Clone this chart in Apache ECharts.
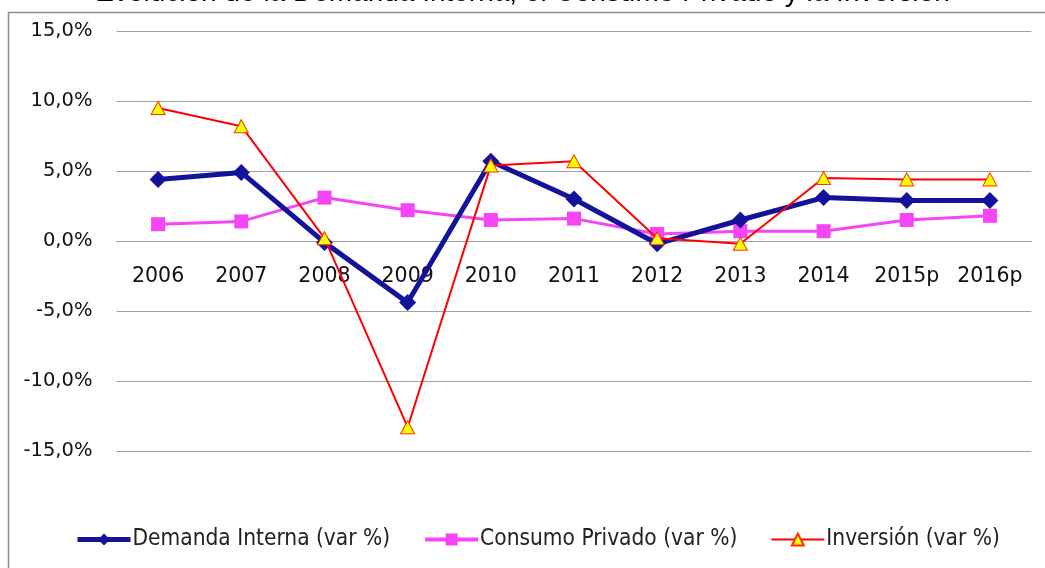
<!DOCTYPE html>
<html>
<head>
<meta charset="utf-8">
<script src="https://cdn.jsdelivr.net/npm/echarts@6/dist/echarts.min.js"></script>
<style>
html,body{margin:0;padding:0;background:#fff;}
#chart{width:1045px;height:568px;}
</style>
</head>
<body>
<div id="chart"></div>
<script>
const titleText = 'Evolución de la Demanda Interna, el Consumo Privado y la Inversión';
const categories = ['2006','2007','2008','2009','2010','2011','2012','2013','2014','2015p','2016p'];
const demandaInterna = [4.4, 4.9, -0.1, -4.4, 5.7, 3.0, -0.2, 1.5, 3.1, 2.9, 2.9];
const consumoPrivado = [1.2, 1.4, 3.1, 2.2, 1.5, 1.6, 0.5, 0.7, 0.7, 1.5, 1.8];
const inversion = [9.5, 8.2, 0.2, -13.3, 5.4, 5.7, 0.2, -0.2, 4.5, 4.4, 4.4];
const seriesNames = ['Demanda Interna (var %)', 'Consumo Privado (var %)', 'Inversión (var %)'];

const blue = '#12129a', pink = '#f545f5', red = '#ff0000';
const chart = echarts.init(document.getElementById('chart'), null, {renderer: 'canvas'});
const fmt = v => v.toFixed(1).replace('.', ',') + '%';
chart.setOption({
  animation: false,
  backgroundColor: '#ffffff',
  title: {
    text: titleText, left: 'center', top: -26,
    textStyle: {fontFamily: 'Liberation Sans', fontSize: 28, fontWeight: 'normal', color: '#000'}
  },
  graphic: [{
    type: 'rect', left: 6, top: 10, z: -1,
    shape: {width: 1100, height: 620},
    style: {fill: 'none', stroke: '#8c8c8c', lineWidth: 1.5}
  }],
  grid: {left: 116.5, right: 13.5, top: 31, bottom: 117, containLabel: false},
  legend: {
    bottom: 12, left: 70, itemGap: 33, itemWidth: 53, itemHeight: 15,
    textStyle: {fontFamily: 'DejaVu Sans Condensed', fontSize: 22.5, color: '#222', padding: [0,0,0,-3]},
    data: [
      {name: seriesNames[0], lineStyle: {width: 5, color: blue}},
      {name: seriesNames[1], lineStyle: {width: 4, color: pink}},
      {name: seriesNames[2], lineStyle: {width: 2, color: red}}
    ]
  },
  xAxis: {
    type: 'category', data: categories, boundaryGap: true,
    offset: -210,
    axisLine: {show: true, onZero: false, lineStyle: {color: '#a0a0a0', width: 1}},
    axisTick: {show: false},
    axisLabel: {interval: 0, fontFamily: 'DejaVu Sans', fontSize: 20.5, color: '#111', margin: 25}
  },
  yAxis: {
    type: 'value', min: -15, max: 15, interval: 5,
    axisLine: {show: false}, axisTick: {show: false},
    splitLine: {lineStyle: {color: '#a0a0a0', width: 1}},
    axisLabel: {formatter: fmt, fontFamily: 'DejaVu Sans', fontSize: 19.5, color: '#111', margin: 24}
  },
  series: [
    {
      name: seriesNames[0], type: 'line', data: demandaInterna,
      symbol: 'diamond', symbolSize: 17,
      lineStyle: {color: blue, width: 5},
      itemStyle: {color: blue}, z: 3
    },
    {
      name: seriesNames[1], type: 'line', data: consumoPrivado,
      symbol: 'rect', symbolSize: 14,
      lineStyle: {color: pink, width: 3},
      itemStyle: {color: pink}, z: 2
    },
    {
      name: seriesNames[2], type: 'line', data: inversion,
      symbol: 'triangle', symbolSize: [14, 13],
      lineStyle: {color: red, width: 2},
      itemStyle: {color: '#ffff00', borderColor: '#ff3300', borderWidth: 1}, z: 4
    }
  ]
});
</script>
</body>
</html>
